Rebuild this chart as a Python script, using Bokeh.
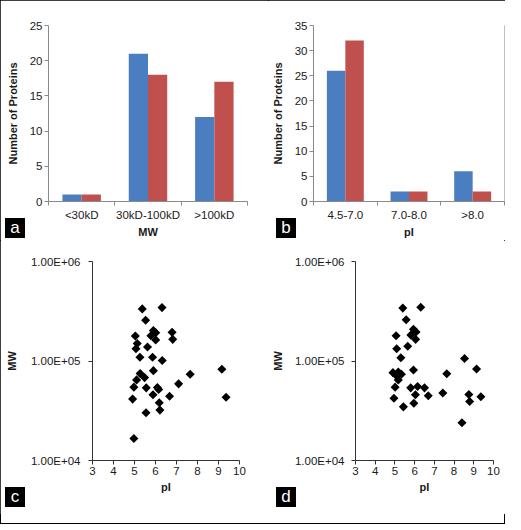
from bokeh.plotting import figure
from bokeh.models import Range1d, FixedTicker, Div
from bokeh.layouts import row, column
from bokeh.embed import file_html
from bokeh.resources import INLINE

FONT = "Liberation Sans"
BLUE = "#4A7EC0"
RED = "#C0504D"
AX_GRAY = "#8A8A8A"
TXT = "#1A1A1A"

# ---- data ----
mw_categories = ["<30kD", "30kD-100kD", ">100kD"]
mw_blue = [1, 21, 12]
mw_red = [1, 18, 17]
mw_yticks = [0, 5, 10, 15, 20, 25]

pi_categories = ["4.5-7.0", "7.0-8.0", ">8.0"]
pi_blue = [26, 2, 6]
pi_red = [32, 2, 2]
pi_yticks = [0, 5, 10, 15, 20, 25, 30, 35]

c_pi = [5.37, 6.31, 5.53, 5.90, 6.01, 5.78, 5.04, 6.79, 6.82, 6.01, 5.13, 5.07,
        5.62, 5.26, 5.86, 6.32, 5.90, 5.27, 5.48, 5.10, 9.16, 7.65, 7.10, 4.97,
        5.56, 6.09, 6.15, 5.88, 6.67, 4.91, 9.36, 6.18, 6.21, 5.55, 4.97]
c_mw = [334000, 344000, 257000, 203000, 192000, 179000, 178000, 194000, 165000,
        163000, 150000, 133000, 138000, 109000, 109000, 101000, 80000, 74700,
        68100, 64600, 82500, 73600, 58900, 54600, 53700, 54100, 51700, 45700,
        44300, 41400, 43300, 38000, 32100, 30200, 16600]

d_pi = [5.40, 6.31, 5.57, 5.94, 6.07, 5.81, 5.06, 6.05, 5.65, 5.09, 5.30, 8.53,
        9.14, 5.94, 7.63, 4.90, 5.17, 5.09, 5.33, 5.17, 5.01, 5.80, 6.15, 6.50,
        6.04, 6.69, 7.43, 4.95, 8.75, 8.79, 9.36, 5.96, 5.43, 8.40]
d_mw = [340000, 347000, 260000, 208000, 196000, 182000, 179000, 165000, 141000,
        133000, 108000, 106000, 83000, 81100, 74600, 76400, 77500, 70800, 73500,
        64600, 54600, 53700, 55400, 53700, 45800, 44800, 47600, 42200, 46100,
        39100, 43800, 37600, 34600, 24000]

scatter_xticks = [3, 4, 5, 6, 7, 8, 9, 10]
scatter_yticks = [10000, 100000, 1000000]
scatter_ylabels = ["1.00E+04", "1.00E+05", "1.00E+06"]

panel_letters = ["a", "b", "c", "d"]


def style_common(p):
    p.outline_line_color = None
    p.xgrid.visible = False
    p.ygrid.visible = False
    p.background_fill_color = "white"
    p.border_fill_color = "white"
    for ax in (p.xaxis[0], p.yaxis[0]):
        ax.major_label_text_font = FONT
        ax.major_label_text_font_size = "11.5px"
        ax.major_label_text_color = TXT
        ax.axis_label_text_font = FONT
        ax.axis_label_text_font_size = "11px"
        ax.axis_label_text_font_style = "bold"
        ax.axis_label_text_color = TXT


def bar_panel(cats, blue, red, yticks, xlabel, w, h, bl, br, bt, bb, ylab_std, axlab_std):
    n = len(cats)
    idx = list(range(n))
    p = figure(width=w, height=h, x_range=Range1d(-0.5, n - 0.5),
               y_range=Range1d(0, yticks[-1]), output_backend="svg",
               toolbar_location=None, min_border_left=bl, min_border_right=br,
               min_border_top=bt, min_border_bottom=bb)
    bw = 0.29
    p.vbar(x=[i - bw / 2 for i in idx], top=blue, width=bw, fill_color=BLUE, line_color=None)
    p.vbar(x=[i + bw / 2 for i in idx], top=red, width=bw, fill_color=RED, line_color=None)
    style_common(p)
    xa = p.xaxis[0]
    xa.ticker = FixedTicker(ticks=idx, minor_ticks=[i - 0.5 for i in range(n + 1)])
    xa.major_label_overrides = {i: c for i, c in zip(idx, cats)}
    xa.major_tick_out = 0
    xa.major_tick_in = 0
    xa.minor_tick_out = 4
    xa.minor_tick_in = 0
    xa.major_label_standoff = 3
    xa.axis_label = xlabel
    xa.axis_label_standoff = 2
    ya = p.yaxis[0]
    ya.ticker = FixedTicker(ticks=yticks, minor_ticks=[])
    ya.major_tick_out = 4
    ya.major_tick_in = 0
    ya.major_label_standoff = ylab_std
    ya.axis_label = "Number of Proteins"
    ya.axis_label_standoff = axlab_std
    for ax in (xa, ya):
        ax.axis_line_color = AX_GRAY
        ax.major_tick_line_color = AX_GRAY
        ax.minor_tick_line_color = AX_GRAY
    return p


def scatter_panel(xs, ys, w, h, bl, br, bt, bb, ylab_std, axlab_std):
    p = figure(width=w, height=h, x_range=Range1d(scatter_xticks[0], scatter_xticks[-1]),
               y_range=Range1d(scatter_yticks[0], scatter_yticks[-1]), y_axis_type="log",
               output_backend="svg", toolbar_location=None, min_border_left=bl,
               min_border_right=br, min_border_top=bt, min_border_bottom=bb)
    p.scatter(x=xs, y=ys, marker="square", angle=0.785398, size=6.4,
              fill_color="black", line_color=None)
    style_common(p)
    xa = p.xaxis[0]
    xa.ticker = FixedTicker(ticks=scatter_xticks, minor_ticks=[])
    xa.major_tick_out = 4
    xa.major_tick_in = 0
    xa.major_label_standoff = 2
    xa.axis_label = "pI"
    xa.axis_label_standoff = 3
    ya = p.yaxis[0]
    ya.ticker = FixedTicker(ticks=scatter_yticks, minor_ticks=[])
    ya.major_label_overrides = {t: s for t, s in zip(scatter_yticks, scatter_ylabels)}
    ya.major_tick_out = 4
    ya.major_tick_in = 0
    ya.major_label_standoff = ylab_std
    ya.axis_label = "MW"
    ya.axis_label_standoff = axlab_std
    for ax in (xa, ya):
        ax.axis_line_color = "#333333"
        ax.major_tick_line_color = "#333333"
    return p


pa = bar_panel(mw_categories, mw_blue, mw_red, mw_yticks, "MW",
               268, 240, 48, 21, 25, 35, 2, 8)
pb = bar_panel(pi_categories, pi_blue, pi_red, pi_yticks, "pI",
               237, 240, 43, 1, 25, 36, 2, 8)
pc = scatter_panel(c_pi, c_mw, 268, 274, 92, 29, 20, 54, 8, 10)
pd = scatter_panel(d_pi, d_mw, 237, 274, 80, 12, 21, 52, 7, 8)

# panel letters: small black tags with white letters, placed over the grid
box_style = ("position:absolute;width:20px;height:20px;background:#000;color:#fff;"
             "font-family:'Liberation Sans',sans-serif;font-size:17px;line-height:19px;"
             "text-align:center;z-index:10;")
tag_pos = [(0, 213), (271, 213), (0, 482), (271, 482)]
tags_html = "".join(
    f'<div style="{box_style}left:{x}px;top:{y - 514}px;">{t}</div>'
    for t, (x, y) in zip(panel_letters, tag_pos))
tags = Div(text=tags_html, width=0, height=0,
           styles={"position": "relative", "overflow": "visible"})

layout = column(row(pa, pb), row(pc, pd), tags,
                styles={"outline": "1px solid black", "outline-offset": "-1px"})

open("out.html", "w").write(file_html(layout, INLINE))
